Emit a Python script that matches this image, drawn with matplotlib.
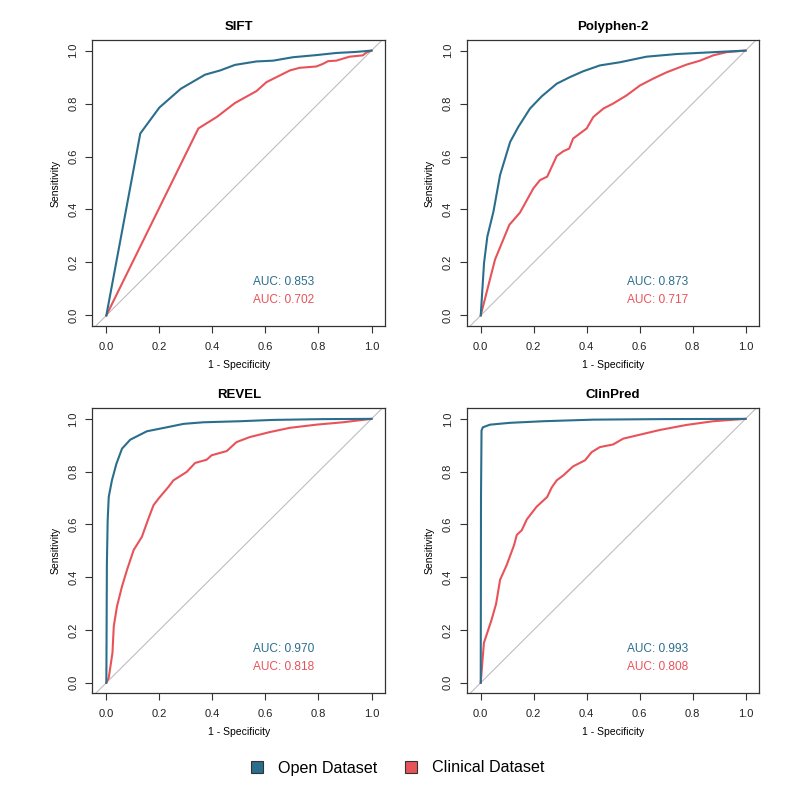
import matplotlib
matplotlib.use("Agg")
import matplotlib.pyplot as plt
from matplotlib.patches import Patch
import numpy as np

plt.rcParams['font.family'] = ['Liberation Sans', 'DejaVu Sans']

# ---- data (false positive rate, sensitivity) ----
sift_open_fpr = [0, 0.128, 0.200, 0.281, 0.372, 0.429, 0.485, 0.566, 0.629, 0.704, 0.792, 0.867, 0.942, 1]
sift_open_tpr = [0, 0.687, 0.785, 0.856, 0.909, 0.925, 0.946, 0.959, 0.962, 0.975, 0.983, 0.991, 0.995, 1]
sift_clin_fpr = [0, 0.347, 0.416, 0.485, 0.566, 0.604, 0.642, 0.692, 0.729, 0.792, 0.817, 0.836, 0.867, 0.917, 0.967, 0.980, 1]
sift_clin_tpr = [0, 0.706, 0.749, 0.802, 0.847, 0.881, 0.900, 0.925, 0.935, 0.940, 0.950, 0.960, 0.962, 0.977, 0.982, 0.992, 1]

pp2_open_fpr = [0, 0.0125, 0.025, 0.048, 0.073, 0.111, 0.142, 0.186, 0.230, 0.287, 0.337, 0.387, 0.450, 0.526, 0.626, 0.740, 0.878, 1]
pp2_open_tpr = [0, 0.198, 0.298, 0.392, 0.530, 0.655, 0.712, 0.781, 0.827, 0.875, 0.900, 0.922, 0.944, 0.956, 0.977, 0.987, 0.994, 1]
pp2_clin_fpr = [0, 0.054, 0.108, 0.148, 0.199, 0.224, 0.251, 0.287, 0.312, 0.334, 0.349, 0.400, 0.425, 0.463, 0.500, 0.551, 0.601, 0.651, 0.702, 0.777, 0.828, 0.878, 0.928, 1]
pp2_clin_tpr = [0, 0.211, 0.342, 0.388, 0.480, 0.511, 0.524, 0.602, 0.620, 0.630, 0.668, 0.706, 0.749, 0.781, 0.800, 0.831, 0.868, 0.894, 0.918, 0.947, 0.962, 0.982, 0.994, 1]

revel_open_fpr = [0, 0.002, 0.005, 0.009, 0.021, 0.038, 0.059, 0.090, 0.153, 0.228, 0.291, 0.366, 0.504, 0.629, 0.817, 1]
revel_open_tpr = [0, 0.45, 0.616, 0.704, 0.767, 0.830, 0.887, 0.921, 0.953, 0.968, 0.981, 0.987, 0.991, 0.996, 0.999, 1]
revel_clin_fpr = [0, 0.009, 0.023, 0.028, 0.040, 0.059, 0.078, 0.103, 0.134, 0.159, 0.178, 0.197, 0.234, 0.253, 0.303, 0.335, 0.378, 0.397, 0.454, 0.491, 0.541, 0.617, 0.692, 0.792, 0.892, 1]
revel_clin_tpr = [0, 0.019, 0.113, 0.214, 0.289, 0.365, 0.428, 0.503, 0.553, 0.623, 0.673, 0.698, 0.742, 0.767, 0.799, 0.833, 0.845, 0.862, 0.878, 0.912, 0.931, 0.950, 0.966, 0.978, 0.987, 1]

clin_open_fpr = [0, 0.001, 0.003, 0.008, 0.035, 0.111, 0.236, 0.425, 0.680, 1]
clin_open_tpr = [0, 0.70, 0.956, 0.968, 0.978, 0.985, 0.991, 0.997, 0.999, 1]
clin_clin_fpr = [0, 0.012, 0.041, 0.058, 0.073, 0.098, 0.126, 0.136, 0.155, 0.174, 0.211, 0.251, 0.268, 0.287, 0.312, 0.349, 0.394, 0.419, 0.450, 0.500, 0.538, 0.601, 0.677, 0.777, 0.878, 1]
clin_clin_tpr = [0, 0.151, 0.239, 0.299, 0.390, 0.446, 0.522, 0.560, 0.578, 0.619, 0.667, 0.704, 0.740, 0.767, 0.786, 0.820, 0.843, 0.874, 0.893, 0.903, 0.925, 0.940, 0.958, 0.977, 0.991, 1]

titles = ["SIFT", "Polyphen-2", "REVEL", "ClinPred"]
auc_open = ["0.853", "0.873", "0.970", "0.993"]
auc_clin = ["0.702", "0.717", "0.818", "0.808"]
series_labels = ["Open Dataset", "Clinical Dataset"]
tick_vals = [0.0, 0.2, 0.4, 0.6, 0.8, 1.0]

curves = [
    (sift_open_fpr, sift_open_tpr, sift_clin_fpr, sift_clin_tpr),
    (pp2_open_fpr, pp2_open_tpr, pp2_clin_fpr, pp2_clin_tpr),
    (revel_open_fpr, revel_open_tpr, revel_clin_fpr, revel_clin_tpr),
    (clin_open_fpr, clin_open_tpr, clin_clin_fpr, clin_clin_tpr),
]

BLUE = "#2B6E8C"
RED = "#E8535A"

W = 787
fig = plt.figure(figsize=(7.87, 7.87), dpi=100)

lefts = [92.3, 466.7]
widths = [293.0, 292.6]
tops = [40.0, 408.3]
heights = [286.0, 285.0]

for i in range(4):
    r, c = divmod(i, 2)
    ax = fig.add_axes([lefts[c] / W, 1 - (tops[r] + heights[r]) / W, widths[c] / W, heights[r] / W])
    of, ot, cf, ct = curves[i]
    ax.set_xlim(-0.053, 1.052)
    ax.set_ylim(-0.04, 1.04)
    ax.plot([-0.1, 1.1], [-0.1, 1.1], color="#BEBEBE", lw=0.8, zorder=1)
    ax.plot(of, ot, color=BLUE, lw=1.5, zorder=3)
    ax.plot(cf, ct, color=RED, lw=1.5, zorder=2)
    ax.set_xticks(tick_vals)
    ax.set_yticks(tick_vals)
    ax.set_xticklabels([f"{v:.1f}" for v in tick_vals])
    ax.set_yticklabels([f"{v:.1f}" for v in tick_vals], rotation=90, va="center")
    ax.tick_params(length=5, width=0.8, labelsize=8, color="#333333", labelcolor="#222222")
    ax.tick_params(axis="x", pad=6.5)
    ax.tick_params(axis="y", pad=5)
    for s in ax.spines.values():
        s.set_linewidth(0.9)
        s.set_color("#333333")
    ax.set_xlabel("1 - Specificity", fontsize=7.5, va="center")
    ax.xaxis.set_label_coords(0.5, -0.137)
    ax.set_ylabel("Sensitivity", fontsize=7.5, va="center")
    ax.yaxis.set_label_coords(-0.127, 0.5)
    ax.text(0.5, 1.046, titles[i], transform=ax.transAxes, ha="center", va="center",
            fontsize=9.5, fontweight="bold")
    ax.text(0.553, 0.128, f"AUC: {auc_open[i]}", color=BLUE, fontsize=8.6, ha="left", va="center")
    ax.text(0.553, 0.060, f"AUC: {auc_clin[i]}", color=RED, fontsize=8.6, ha="left", va="center")

handles = [Patch(facecolor=BLUE, edgecolor="#333333", linewidth=0.8),
           Patch(facecolor=RED, edgecolor="#333333", linewidth=0.8)]
fig.legend(handles, series_labels, loc="center", bbox_to_anchor=(397.5 / W, 1 - 768 / W), ncol=2,
           frameon=False, fontsize=11.6, handlelength=0.75, handleheight=0.75,
           handletextpad=0.95, columnspacing=1.7)

fig.savefig("out.png", dpi=100)
